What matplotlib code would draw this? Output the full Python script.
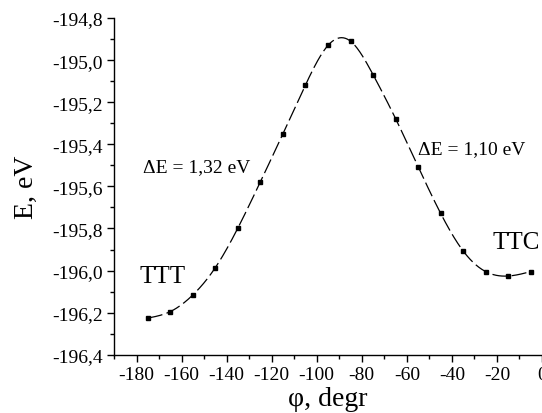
import numpy as np
import matplotlib
matplotlib.use('Agg')
import matplotlib.pyplot as plt
from matplotlib.ticker import MultipleLocator, FuncFormatter

# torsion angle scan: total energy vs dihedral angle
phi = [-175, -165, -155, -145, -135, -125, -115, -105, -95,
       -85, -75, -65, -55, -45, -35, -25, -15, -5]
energy = [-196.226, -196.195, -196.116, -195.986, -195.798, -195.578,
          -195.350, -195.118, -194.930, -194.910, -195.069, -195.278,
          -195.506, -195.728, -195.907, -196.005, -196.026, -196.005]

barrier_left = 'ΔE = 1,32 eV'
barrier_right = 'ΔE = 1,10 eV'

plt.rcParams['font.family'] = ['Liberation Serif', 'DejaVu Serif']


def natural_spline(x, y, n=400):
    # plain natural cubic spline, just for the smooth guide line
    x = np.asarray(x, float)
    y = np.asarray(y, float)
    h = np.diff(x)
    k = len(x)
    A = np.zeros((k, k))
    b = np.zeros(k)
    A[0, 0] = A[-1, -1] = 1.0
    for i in range(1, k - 1):
        A[i, i - 1] = h[i - 1]
        A[i, i] = 2 * (h[i - 1] + h[i])
        A[i, i + 1] = h[i]
        b[i] = 3 * ((y[i + 1] - y[i]) / h[i] - (y[i] - y[i - 1]) / h[i - 1])
    c = np.linalg.solve(A, b)
    xs = np.linspace(x[0], x[-1], n)
    idx = np.clip(np.searchsorted(x, xs) - 1, 0, k - 2)
    dx = xs - x[idx]
    hi = h[idx]
    bb = (y[idx + 1] - y[idx]) / hi - hi * (2 * c[idx] + c[idx + 1]) / 3
    dd = (c[idx + 1] - c[idx]) / (3 * hi)
    ys = y[idx] + bb * dx + c[idx] * dx ** 2 + dd * dx ** 3
    return xs, ys


fig = plt.figure(figsize=(5.42, 4.14), dpi=100)
ax = fig.add_axes([0.2103, 0.1408, 0.7897, 0.8132])

xs, ys = natural_spline(phi, energy)
ax.plot(xs, ys, color='black', lw=0.9, linestyle=(0, (12, 3.5)))
ax.plot(phi, energy, linestyle='none', marker='s', markersize=3.4,
        color='black')

ax.set_xlim(-190, 0)
ax.set_ylim(-196.4, -194.8)
ax.xaxis.set_major_locator(MultipleLocator(20))
ax.xaxis.set_minor_locator(MultipleLocator(10))
ax.yaxis.set_major_locator(MultipleLocator(0.2))
ax.yaxis.set_minor_locator(MultipleLocator(0.1))
ax.yaxis.set_major_formatter(FuncFormatter(lambda v, p: f'{v:.1f}'.replace('.', ',')))
ax.xaxis.set_major_formatter(FuncFormatter(lambda v, p: f'{v:.0f}'))

for s in ['top', 'right']:
    ax.spines[s].set_visible(False)
for s in ['left', 'bottom']:
    ax.spines[s].set_linewidth(1.0)
ax.tick_params(which='major', direction='out', length=5, width=1.0,
               labelsize=14, pad=3)
ax.tick_params(which='minor', direction='out', length=3, width=1.0)

ax.set_xlabel('φ, degr', fontsize=20)
ax.set_ylabel('E, eV', fontsize=20)
ax.xaxis.set_label_coords(0.5, -0.093)
ax.yaxis.set_label_coords(-0.176, 0.5)

ax.annotate(barrier_left, xy=(-177, -195.508), fontsize=14, va='center')
ax.annotate(barrier_right, xy=(-55, -195.422), fontsize=14, va='center')
ax.annotate('TTT', xy=(-178.5, -196.025), fontsize=18, va='center')
ax.annotate('TTC', xy=(-22, -195.865), fontsize=18, va='center')

fig.savefig('out.png', dpi=100)
